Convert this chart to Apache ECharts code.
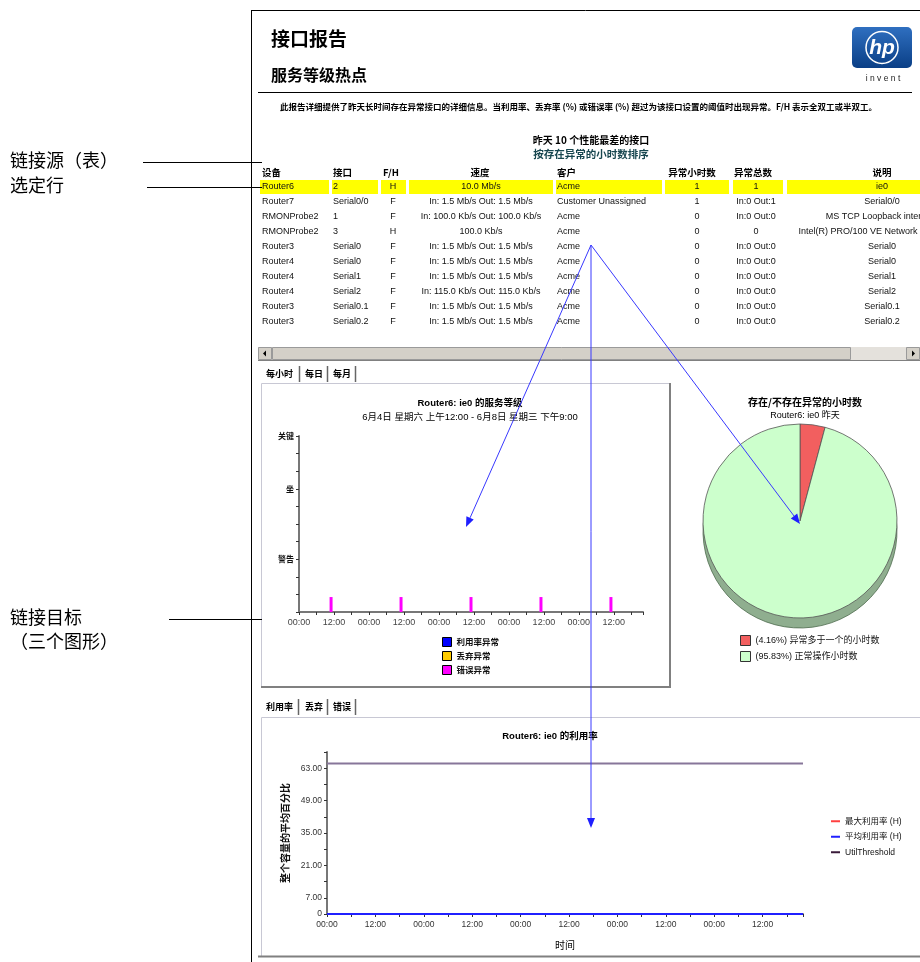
<!DOCTYPE html>
<html>
<head>
<meta charset="utf-8">
<title>接口报告</title>
<script src="https://cdn.jsdelivr.net/npm/echarts@6/dist/echarts.min.js"></script>
<style>
  html, body { margin: 0; padding: 0; background: #fff; }
  #main { width: 920px; height: 962px; }
</style>
</head>
<body>
<div id="main"></div>
<script>
// ---- 表格 ----
const tableHeaders = ['设备', '接口', 'F/H', '速度', '客户', '异常小时数', '异常总数', '说明'];
const devices = ['Router6', 'Router7', 'RMONProbe2', 'RMONProbe2', 'Router3', 'Router4', 'Router4', 'Router4', 'Router3', 'Router3'];
const interfaces = ['2', 'Serial0/0', '1', '3', 'Serial0', 'Serial0', 'Serial1', 'Serial2', 'Serial0.1', 'Serial0.2'];
const duplex = ['H', 'F', 'F', 'H', 'F', 'F', 'F', 'F', 'F', 'F'];
const speeds = ['10.0 Mb/s', 'In: 1.5 Mb/s Out: 1.5 Mb/s', 'In: 100.0 Kb/s Out: 100.0 Kb/s', '100.0 Kb/s',
  'In: 1.5 Mb/s Out: 1.5 Mb/s', 'In: 1.5 Mb/s Out: 1.5 Mb/s', 'In: 1.5 Mb/s Out: 1.5 Mb/s',
  'In: 115.0 Kb/s Out: 115.0 Kb/s', 'In: 1.5 Mb/s Out: 1.5 Mb/s', 'In: 1.5 Mb/s Out: 1.5 Mb/s'];
const customers = ['Acme', 'Customer Unassigned', 'Acme', 'Acme', 'Acme', 'Acme', 'Acme', 'Acme', 'Acme', 'Acme'];
const exceptionHours = ['1', '1', '0', '0', '0', '0', '0', '0', '0', '0'];
const exceptionTotals = ['1', 'In:0 Out:1', 'In:0 Out:0', '0', 'In:0 Out:0', 'In:0 Out:0', 'In:0 Out:0', 'In:0 Out:0', 'In:0 Out:0', 'In:0 Out:0'];
const descriptions = ['ie0', 'Serial0/0', 'MS TCP Loopback interface', 'Intel(R) PRO/100 VE Network Connection',
  'Serial0', 'Serial0', 'Serial1', 'Serial2', 'Serial0.1', 'Serial0.2'];

// ---- 服务等级（每小时） ----
const levelSeries = ['利用率异常', '丢弃异常', '错误异常'];
const errorHours = [11, 35, 59, 83, 107];
const errorLevel = [0.85, 0.85, 0.85, 0.85, 0.85];
const levelLabels = { 3: '警告', 7: '坐', 10: '关键' };

// ---- 饼图 ----
const pieNames = ['异常多于一个的小时数', '正常操作小时数'];
const pieHours = [1, 23];
const piePct = ['4.16%', '95.83%'];

// ---- 利用率 ----
const utilSeries = ['最大利用率 (H)', '平均利用率 (H)', 'UtilThreshold'];
const utilHours = [0, 118];
const utilMax = [0, 0];
const utilAvg = [0, 0];
const utilThreshold = [65, 65];

const latin = "'Liberation Sans','Noto Sans CJK SC',sans-serif";
const cjk = "'Noto Sans CJK SC','Liberation Sans',sans-serif";

function txt(x, y, text, o) {
  o = o || {};
  return {
    type: 'text', x: x, y: y, z: o.z || 10, silent: true,
    style: {
      text: text, fill: o.color || '#000', fontSize: o.size || 9,
      fontFamily: o.family || latin, fontWeight: o.weight || 'normal',
      align: o.align || 'left', verticalAlign: 'middle',
      textAlign: o.align || 'left', textVerticalAlign: 'middle'
    }
  };
}
function line(x1, y1, x2, y2, color, w, z) {
  return { type: 'line', z: z || 5, silent: true, shape: { x1: x1, y1: y1, x2: x2, y2: y2 }, style: { stroke: color || '#000', lineWidth: w || 1 } };
}
function rect(x, y, w, h, fill, stroke, z) {
  return { type: 'rect', z: z || 2, silent: true, shape: { x: x, y: y, width: w, height: h }, style: { fill: fill || 'none', stroke: stroke || null, lineWidth: 1 } };
}
function arrow(x1, y1, x2, y2) {
  const dx = x2 - x1, dy = y2 - y1, L = Math.hypot(dx, dy), ux = dx / L, uy = dy / L;
  const hl = 10, hw = 4;
  const bx = x2 - ux * hl, by = y2 - uy * hl;
  return [
    { type: 'line', z: 100, silent: true, shape: { x1: x1, y1: y1, x2: bx, y2: by }, style: { stroke: '#3838ff', lineWidth: 1 } },
    { type: 'polygon', z: 100, silent: true, shape: { points: [[x2, y2], [bx - uy * hw, by + ux * hw], [bx + uy * hw, by - ux * hw]] }, style: { fill: '#1f1fff' } }
  ];
}

const g = [];
// 页面框线
g.push(line(251.5, 10, 251.5, 962, '#000', 1));
g.push(line(251, 10.5, 920, 10.5, '#000', 1));
// 标题
g.push(txt(271, 39, '接口报告', { size: 19, family: cjk, weight: 'bold' }));
g.push(txt(271, 75, '服务等级热点', { size: 16, family: cjk, weight: 'bold' }));
g.push(line(258, 92.5, 912, 92.5, '#000', 1));
g.push(txt(280, 107, '此报告详细提供了昨天长时间存在异常接口的详细信息。当利用率、丢弃率 (%) 或错误率 (%) 超过为该接口设置的阈值时出现异常。F/H 表示全双工或半双工。', { size: 8.5, family: cjk, weight: 'bold' }));
// hp logo
g.push({ type: 'rect', z: 5, silent: true, shape: { x: 852, y: 27, width: 60, height: 41, r: 5 },
  style: { fill: new echarts.graphic.LinearGradient(0, 0, 0, 1, [{ offset: 0, color: '#2f6fc0' }, { offset: 1, color: '#0a3f86' }]) } });
g.push({ type: 'circle', z: 6, silent: true, shape: { cx: 882, cy: 47.5, r: 16 }, style: { fill: 'none', stroke: '#fff', lineWidth: 1.5 } });
g.push({ type: 'text', x: 882, y: 48, z: 7, silent: true, style: { text: 'hp', fill: '#fff', fontSize: 21, fontStyle: 'italic', fontWeight: 'bold', fontFamily: latin, align: 'center', verticalAlign: 'middle', textAlign: 'center', textVerticalAlign: 'middle' } });
g.push(txt(883, 79, 'i n v e n t', { size: 8.5, align: 'center', color: '#222' }));

// 表格标题
g.push(txt(591, 140, '昨天 10 个性能最差的接口', { size: 10, family: cjk, weight: 'bold', align: 'center' }));
g.push(txt(591, 154, '按存在异常的小时数排序', { size: 10.5, family: cjk, weight: 'bold', align: 'center', color: '#17464f' }));

const headerPos = [[262, 'left'], [333, 'left'], [383, 'left'], [480, 'center'], [557, 'left'], [692, 'center'], [734, 'left'], [882, 'center']];
const cellPos = [[262, 'left'], [333, 'left'], [393, 'center'], [481, 'center'], [557, 'left'], [697, 'center'], [756, 'center'], [882, 'center']];
const hiBoxes = [[260, 329], [332, 378], [381, 406], [409, 553], [556, 662], [665, 729], [733, 783], [787, 920]];
tableHeaders.forEach(function (h, i) {
  g.push(txt(headerPos[i][0], 172, h, { size: 9.5, family: cjk, weight: 'bold', align: headerPos[i][1] }));
});
const columns = [devices, interfaces, duplex, speeds, customers, exceptionHours, exceptionTotals, descriptions];
for (let r = 0; r < devices.length; r++) {
  const y = 187 + r * 15;
  if (r === 0) {
    hiBoxes.forEach(function (b) { g.push(rect(b[0], y - 7, b[1] - b[0], 14, '#ffff00')); });
  }
  columns.forEach(function (col, c) {
    g.push(txt(cellPos[c][0], y, col[r], { size: 9, align: cellPos[c][1], color: '#111' }));
  });
}

// 滚动条
g.push(rect(258, 347, 662, 13, '#e4e1dc', null, 3));
g.push(rect(272.5, 347.5, 578, 12, '#d4d0c8', '#9a9a9a', 4));
g.push(rect(258.5, 347.5, 13, 12, '#d4d0c8', '#9a9a9a', 4));
g.push(rect(906.5, 347.5, 13, 12, '#d4d0c8', '#9a9a9a', 4));
g.push({ type: 'polygon', z: 5, silent: true, shape: { points: [[263, 353.5], [266, 350.5], [266, 356.5]] }, style: { fill: '#000' } });
g.push({ type: 'polygon', z: 5, silent: true, shape: { points: [[915, 353.5], [912, 350.5], [912, 356.5]] }, style: { fill: '#000' } });
g.push(line(258, 360.5, 920, 360.5, '#808080', 1));

// 选项卡 1
g.push(txt(266, 374, '每小时', { size: 9, family: cjk, weight: 'bold' }));
g.push(txt(305, 374, '每日', { size: 9, family: cjk, weight: 'bold' }));
g.push(txt(333, 374, '每月', { size: 9, family: cjk, weight: 'bold' }));
[299.5, 327.5, 355.5].forEach(function (x) { g.push(line(x, 366, x, 382, '#666', 1.5)); });
g.push(line(261.5, 383.5, 670, 383.5, '#c8c8d4', 1));
g.push(line(261.5, 383.5, 261.5, 687, '#c8c8d4', 1));
g.push(line(670, 383, 670, 688, '#808080', 2));
g.push(line(261, 687, 671, 687, '#808080', 2));

// 选项卡 2
g.push(txt(266, 707, '利用率', { size: 9, family: cjk, weight: 'bold' }));
g.push(txt(305, 707, '丢弃', { size: 9, family: cjk, weight: 'bold' }));
g.push(txt(333, 707, '错误', { size: 9, family: cjk, weight: 'bold' }));
[298.5, 327.5, 355.5].forEach(function (x) { g.push(line(x, 699, x, 715, '#666', 1.5)); });
g.push(line(261.5, 717.5, 920, 717.5, '#c8c8d4', 1));
g.push(line(261.5, 717.5, 261.5, 956, '#c8c8d4', 1));
g.push(line(258, 956.5, 920, 956.5, '#808080', 2));

// 左侧说明
g.push(txt(10, 160, '链接源（表）', { size: 18, family: cjk }));
g.push(txt(10, 185, '选定行', { size: 18, family: cjk }));
g.push(line(143, 162.5, 262, 162.5, '#000', 1));
g.push(line(147, 187.5, 262, 187.5, '#000', 1));
g.push(txt(10, 617, '链接目标', { size: 18, family: cjk }));
g.push(txt(10, 641, '（三个图形）', { size: 18, family: cjk }));
g.push(line(169, 619.5, 262, 619.5, '#000', 1));

// 蓝色箭头
Array.prototype.push.apply(g, arrow(591, 245, 466, 527));
Array.prototype.push.apply(g, arrow(591, 245, 800, 524));
Array.prototype.push.apply(g, arrow(591, 245, 591, 828));

const axisCommon = {
  axisLine: { show: true, lineStyle: { color: '#777', width: 2 } },
  axisTick: { show: true, length: 3, lineStyle: { color: '#333' } },
  splitLine: { show: false }
};
function hourLabel(v) {
  if (v % 24 === 0) return '00:00';
  if (v % 24 === 12) return '12:00';
  return '';
}

const chart = echarts.init(document.getElementById('main'), null, { renderer: 'canvas' });
chart.setOption({
  animation: false,
  textStyle: { fontFamily: latin },
  title: [
    { text: 'Router6: ie0 的服务等级', subtext: '6月4日 星期六 上午12:00 - 6月8日 星期三 下午9:00',
      left: 465, top: 394, textAlign: 'center', itemGap: 4,
      textStyle: { fontSize: 9.5, fontWeight: 'bold', color: '#000', fontFamily: latin },
      subtextStyle: { fontSize: 9.5, color: '#000', fontFamily: latin } },
    { text: '存在/不存在异常的小时数', subtext: 'Router6: ie0 昨天',
      left: 800, top: 392, textAlign: 'center', itemGap: 4,
      textStyle: { fontSize: 10, fontWeight: 'bold', color: '#000', fontFamily: cjk },
      subtextStyle: { fontSize: 9, color: '#000', fontFamily: latin } },
    { text: 'Router6: ie0 的利用率', left: 545, top: 727, textAlign: 'center',
      textStyle: { fontSize: 9.5, fontWeight: 'bold', color: '#000', fontFamily: latin } }
  ],
  legend: [
    { data: levelSeries, orient: 'vertical', left: 437, top: 632, itemWidth: 9, itemHeight: 9, itemGap: 4,
      icon: 'rect', itemStyle: { borderColor: '#000', borderWidth: 1 }, selectedMode: false,
      textStyle: { fontSize: 8.5, fontFamily: cjk, fontWeight: 'bold', color: '#111' } },
    { data: pieNames, orient: 'vertical', left: 735, top: 630, itemWidth: 10, itemHeight: 10, itemGap: 5,
      icon: 'rect', itemStyle: { borderColor: '#333', borderWidth: 1 }, selectedMode: false,
      formatter: function (n) { return '(' + piePct[pieNames.indexOf(n)] + ') ' + n; },
      textStyle: { fontSize: 9, fontFamily: latin, color: '#111' } },
    { data: utilSeries, orient: 'vertical', left: 826, top: 812, itemWidth: 9, itemHeight: 2, itemGap: 7,
      icon: 'rect', selectedMode: false,
      textStyle: { fontSize: 8.5, fontFamily: latin, color: '#111' } }
  ],
  grid: [
    { left: 299, top: 436, width: 344, height: 176 },
    { left: 327, top: 752, width: 476, height: 162 }
  ],
  xAxis: [
    Object.assign({ gridIndex: 0, type: 'value', min: 0, max: 118, interval: 6,
      axisLabel: { formatter: hourLabel, fontSize: 9, color: '#444', margin: 6 } }, axisCommon),
    Object.assign({ gridIndex: 1, type: 'value', min: 0, max: 118, interval: 6,
      name: '时间', nameLocation: 'middle', nameGap: 26,
      nameTextStyle: { fontSize: 10, color: '#000', fontFamily: cjk },
      axisLabel: { formatter: hourLabel, fontSize: 8.5, color: '#333', margin: 6 } }, axisCommon)
  ],
  yAxis: [
    Object.assign({ gridIndex: 0, type: 'value', min: 0, max: 10, interval: 1,
      axisLabel: { formatter: function (v) { return levelLabels[v] || ''; }, fontSize: 8, fontWeight: 'bold', fontFamily: cjk, color: '#111', margin: 5 } }, axisCommon),
    Object.assign({ gridIndex: 1, type: 'value', min: 0, max: 70, interval: 7,
      name: '整个容量的平均百分比', nameLocation: 'middle', nameGap: 34, nameRotate: 90,
      nameTextStyle: { fontSize: 10, fontWeight: 'bold', color: '#111', fontFamily: cjk },
      axisLabel: { formatter: function (v) { return v === 0 ? '0' : ((v / 7) % 2 === 1 ? v.toFixed(2) : ''); }, fontSize: 8.5, color: '#333', margin: 5 } }, axisCommon)
  ],
  graphic: { elements: g },
  series: [
    { name: levelSeries[0], type: 'bar', stack: 'level', xAxisIndex: 0, yAxisIndex: 0, barWidth: 3, data: [], itemStyle: { color: '#0000ff' } },
    { name: levelSeries[1], type: 'bar', stack: 'level', xAxisIndex: 0, yAxisIndex: 0, barWidth: 3, data: [], itemStyle: { color: '#ffcc00' } },
    { name: levelSeries[2], type: 'bar', stack: 'level', xAxisIndex: 0, yAxisIndex: 0, barWidth: 3, silent: true,
      data: errorHours.map(function (h, i) { return [h, errorLevel[i]]; }), itemStyle: { color: '#ff00ff' } },
    // 饼图立体侧面
    { name: 'depth', type: 'pie', center: [800, 531], radius: 97, startAngle: 90, silent: true, z: 1,
      label: { show: false }, labelLine: { show: false },
      itemStyle: { borderColor: '#4c6b4c', borderWidth: 0.8 },
      data: pieHours.map(function (v, i) { return { name: 'd' + i, value: v, itemStyle: { color: i === 0 ? '#9c4a4a' : '#8fae8f' } }; }) },
    { name: '小时数', type: 'pie', center: [800, 521], radius: 97, startAngle: 90, silent: true, z: 2,
      label: { show: false }, labelLine: { show: false },
      itemStyle: { borderColor: '#555', borderWidth: 0.8 },
      data: pieNames.map(function (n, i) { return { name: n, value: pieHours[i], itemStyle: { color: i === 0 ? '#f25f5f' : '#ccffcc' } }; }) },
    { name: utilSeries[0], type: 'line', xAxisIndex: 1, yAxisIndex: 1, symbol: 'none', silent: true,
      data: utilHours.map(function (h, i) { return [h, utilMax[i]]; }), lineStyle: { color: '#ff4040', width: 2 }, itemStyle: { color: '#ff4040' } },
    { name: utilSeries[1], type: 'line', xAxisIndex: 1, yAxisIndex: 1, symbol: 'none', silent: true,
      data: utilHours.map(function (h, i) { return [h, utilAvg[i]]; }), lineStyle: { color: '#2020ff', width: 2 }, itemStyle: { color: '#2020ff' } },
    { name: utilSeries[2], type: 'line', xAxisIndex: 1, yAxisIndex: 1, symbol: 'none', silent: true,
      data: utilHours.map(function (h, i) { return [h, utilThreshold[i]]; }), lineStyle: { color: '#87769a', width: 2 }, itemStyle: { color: '#3a1a3a' } }
  ]
});
</script>
</body>
</html>
